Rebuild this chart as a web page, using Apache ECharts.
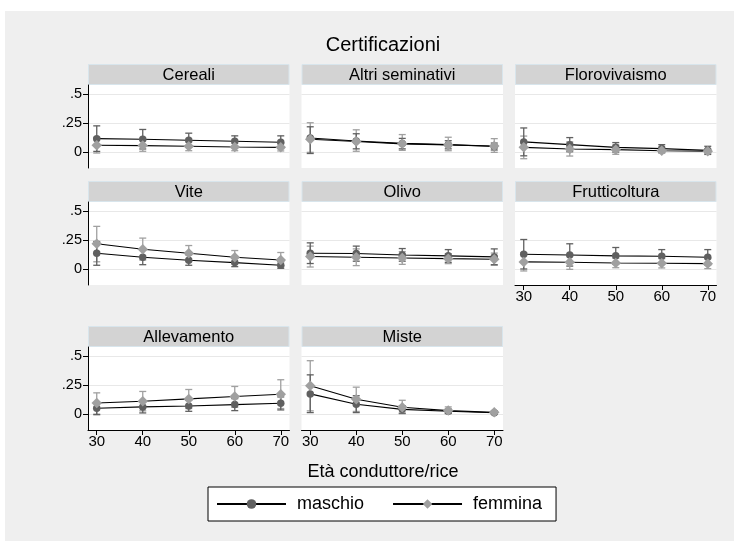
<!DOCTYPE html>
<html><head><meta charset="utf-8">
<script src="https://cdn.jsdelivr.net/npm/echarts@6/dist/echarts.min.js"></script>
<style>
html,body{margin:0;padding:0;background:#fff;}
#bg{position:absolute;left:5px;top:11px;width:729px;height:530px;background:#efefef;}
#chart{position:absolute;left:0;top:0;width:734px;height:541px;}
</style></head><body><div id="bg"></div><div id="chart"></div>
<script>
// ---- data ----
const ages = [30, 40, 50, 60, 70];
const panels = ['Cereali', 'Altri seminativi', 'Florovivaismo', 'Vite', 'Olivo', 'Frutticoltura', 'Allevamento', 'Miste'];
const yTicks = [0, 0.25, 0.5];
const yTickLabels = ['0', '.25', '.5'];
const seriesNames = ['maschio', 'femmina'];

const maschioMean = [
  [0.118, 0.113, 0.104, 0.095, 0.087],
  [0.124, 0.097, 0.077, 0.066, 0.050],
  [0.090, 0.066, 0.043, 0.032, 0.017],
  [0.139, 0.104, 0.078, 0.058, 0.035],
  [0.139, 0.136, 0.124, 0.116, 0.107],
  [0.130, 0.124, 0.116, 0.113, 0.104],
  [0.052, 0.064, 0.072, 0.084, 0.095],
  [0.176, 0.087, 0.043, 0.026, 0.014]
];
const maschioLo = [
  [0.008, 0.029, 0.043, 0.048, 0.032],
  [-0.010, 0.030, 0.030, 0.030, 0.020],
  [-0.030, 0.005, 0.002, -0.002, -0.018],
  [0.035, 0.040, 0.035, 0.023, 0.009],
  [0.050, 0.070, 0.070, 0.060, 0.040],
  [0.003, 0.028, 0.044, 0.056, 0.038],
  [0.000, 0.012, 0.026, 0.032, 0.038],
  [0.015, 0.015, 0.010, 0.010, 0.005]
];
const maschioHi = [
  [0.228, 0.197, 0.165, 0.142, 0.142],
  [0.220, 0.160, 0.120, 0.100, 0.080],
  [0.210, 0.127, 0.084, 0.066, 0.052],
  [0.240, 0.170, 0.125, 0.095, 0.065],
  [0.228, 0.200, 0.179, 0.170, 0.176],
  [0.257, 0.220, 0.188, 0.170, 0.170],
  [0.100, 0.115, 0.120, 0.135, 0.150],
  [0.340, 0.160, 0.075, 0.045, 0.025]
];
const femminaMean = [
  [0.061, 0.058, 0.052, 0.046, 0.043],
  [0.113, 0.093, 0.073, 0.064, 0.054],
  [0.043, 0.029, 0.023, 0.014, 0.009],
  [0.220, 0.173, 0.139, 0.104, 0.081],
  [0.110, 0.104, 0.098, 0.092, 0.087],
  [0.064, 0.061, 0.055, 0.052, 0.049],
  [0.098, 0.113, 0.133, 0.153, 0.173],
  [0.246, 0.130, 0.061, 0.032, 0.017]
];
const femminaLo = [
  [-0.006, 0.009, 0.014, 0.014, 0.012],
  [0.000, 0.009, 0.017, 0.014, 0.000],
  [-0.055, -0.032, -0.017, -0.006, -0.009],
  [0.065, 0.080, 0.070, 0.050, 0.030],
  [0.020, 0.032, 0.043, 0.049, 0.035],
  [-0.014, 0.000, 0.014, 0.012, 0.006],
  [-0.005, 0.030, 0.050, 0.060, 0.050],
  [0.030, 0.025, 0.005, 0.005, 0.005]
];
const femminaHi = [
  [0.128, 0.107, 0.090, 0.078, 0.074],
  [0.255, 0.194, 0.153, 0.130, 0.118],
  [0.140, 0.090, 0.063, 0.034, 0.027],
  [0.370, 0.269, 0.205, 0.162, 0.145],
  [0.200, 0.176, 0.153, 0.135, 0.140],
  [0.142, 0.122, 0.096, 0.092, 0.092],
  [0.185, 0.197, 0.214, 0.240, 0.298],
  [0.462, 0.234, 0.121, 0.064, 0.030]
];

// ---- layout / style ----
const FONT = "'Liberation Sans', Arial, sans-serif";
const colLeft = [88, 301.5, 515];
const rowTop = [85, 202, 347];
const plotW = 201.5, plotH = 83, stripH = 21;
const xAxisPanels = [5, 6, 7];
const colM = '#606060', colF = '#a0a0a0';

const grids = [], xAxes = [], yAxes = [], series = [], graphics = [];

function ciRenderer(color) {
  return function (params, api) {
    const x = api.value(0), lo = api.value(1), hi = api.value(2);
    const p1 = api.coord([x, lo]), p2 = api.coord([x, hi]);
    const hw = 3.5;
    const style = { stroke: color, lineWidth: 1.3 };
    return {
      type: 'group', children: [
        { type: 'line', shape: { x1: p1[0], y1: p1[1], x2: p2[0], y2: p2[1] }, style: style },
        { type: 'line', shape: { x1: p1[0] - hw, y1: p1[1], x2: p1[0] + hw, y2: p1[1] }, style: style },
        { type: 'line', shape: { x1: p2[0] - hw, y1: p2[1], x2: p2[0] + hw, y2: p2[1] }, style: style }
      ]
    };
  };
}

panels.forEach(function (name, i) {
  const r = Math.floor(i / 3), c = i % 3;
  const left = colLeft[c], top = rowTop[r];
  grids.push({ left: left, top: top, width: plotW, height: plotH, show: true, backgroundColor: '#ffffff', borderWidth: 0, containLabel: false });
  const showX = xAxisPanels.indexOf(i) >= 0;
  xAxes.push({
    gridIndex: i, type: 'value', min: 28.1, max: 71.9, position: 'bottom',
    axisLine: { show: showX, onZero: false, lineStyle: { color: '#000', width: 1 } },
    axisTick: { show: showX, customValues: ages, length: 5, lineStyle: { color: '#000', width: 1 } },
    axisLabel: { show: showX, customValues: ages, color: '#000', fontSize: 15, margin: 4, fontFamily: FONT },
    splitLine: { show: false }
  });
  yAxes.push({
    gridIndex: i, type: 'value', min: -0.135, max: 0.58,
    axisLine: { show: c === 0, onZero: false, lineStyle: { color: '#000', width: 1 } },
    axisTick: { show: c === 0, customValues: yTicks, length: 5, lineStyle: { color: '#000', width: 1 } },
    axisLabel: { show: c === 0, customValues: yTicks, color: '#000', fontSize: 14.5, margin: 6, fontFamily: FONT,
      formatter: function (v) { const k = yTicks.indexOf(v); return k >= 0 ? yTickLabels[k] : ''; } },
    splitLine: { show: true, lineStyle: { color: '#e8e8e8', width: 1.2 } }
  });

  const ciF = ages.map(function (a, j) { return [a, femminaLo[i][j], femminaHi[i][j]]; });
  const ciM = ages.map(function (a, j) { return [a, maschioLo[i][j], maschioHi[i][j]]; });
  series.push({ type: 'custom', name: 'ciF' + i, xAxisIndex: i, yAxisIndex: i, data: ciF, renderItem: ciRenderer(colF), encode: { x: 0, y: [1, 2] }, silent: true, z: 2 });
  series.push({ type: 'custom', name: 'ciM' + i, xAxisIndex: i, yAxisIndex: i, data: ciM, renderItem: ciRenderer(colM), encode: { x: 0, y: [1, 2] }, silent: true, z: 3 });
  series.push({
    type: 'line', name: seriesNames[0], xAxisIndex: i, yAxisIndex: i,
    data: ages.map(function (a, j) { return [a, maschioMean[i][j]]; }),
    symbol: 'circle', symbolSize: 7.5, showAllSymbol: true,
    itemStyle: { color: colM, borderWidth: 0 }, lineStyle: { color: '#000', width: 1.1 },
    silent: true, z: 4
  });
  series.push({
    type: 'line', name: seriesNames[1], xAxisIndex: i, yAxisIndex: i,
    data: ages.map(function (a, j) { return [a, femminaMean[i][j]]; }),
    symbol: 'diamond', symbolSize: 10.5, showAllSymbol: true,
    itemStyle: { color: colF, borderWidth: 0 }, lineStyle: { color: '#000', width: 1.1 },
    silent: true, z: 5
  });

  // strip
  graphics.push({ type: 'rect', shape: { x: left + 0.5, y: top - stripH + 0.5, width: plotW - 1, height: stripH - 1 },
    style: { fill: '#d3d3d3', stroke: '#d8e5ec', lineWidth: 1 }, silent: true });
  graphics.push({ type: 'text', x: left + plotW / 2, y: top - stripH / 2 + 0.5,
    style: { text: name, fill: '#000', font: '16.5px ' + FONT, align: 'center', verticalAlign: 'middle' }, silent: true });
});

graphics.push({ type: 'text', x: 383, y: 45, style: { text: 'Certificazioni', fill: '#000', font: '20px ' + FONT, align: 'center', verticalAlign: 'middle' }, silent: true });
graphics.push({ type: 'text', x: 383, y: 472, style: { text: 'Età conduttore/rice', fill: '#000', font: '18px ' + FONT, align: 'center', verticalAlign: 'middle' }, silent: true });

const chart = echarts.init(document.getElementById('chart'), null, { renderer: 'canvas' });
chart.setOption({
  animation: false,
  backgroundColor: 'transparent',
  grid: grids,
  xAxis: xAxes,
  yAxis: yAxes,
  series: series,
  graphic: { elements: graphics },
  legend: {
    data: seriesNames, left: 208, top: 487, orient: 'horizontal',
    itemWidth: 69, itemHeight: 12, itemGap: 28,
    padding: [8, 14, 8, 8],
    backgroundColor: '#ffffff', borderColor: '#000', borderWidth: 1, borderRadius: 0,
    selectedMode: false,
    textStyle: { fontSize: 18, color: '#000', fontFamily: FONT, padding: [0, 0, 0, 6] }
  }
});
</script>
</body></html>
